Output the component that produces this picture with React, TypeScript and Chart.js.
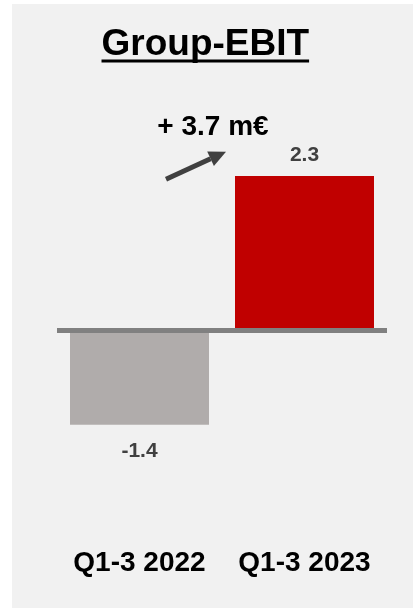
import React, { useEffect, useRef } from "react";
import { Chart, registerables } from "chart.js";

Chart.register(...registerables);

const TITLE = "Group-EBIT";
const CATEGORIES = ["Q1-3 2022", "Q1-3 2023"];
const EBIT_VALUES = [-1.4, 2.3];
const BAR_COLORS = ["#b0acab", "#c00000"];
const UNIT = "m€";

const FONT = "'Liberation Sans', Arial, Helvetica, sans-serif";

export default function App() {
  const canvasRef = useRef<HTMLCanvasElement | null>(null);

  useEffect(() => {
    const canvas = canvasRef.current;
    if (!canvas) return;

    const overlay = {
      id: "overlay",
      afterDraw(chart: any) {
        const ctx = chart.ctx as CanvasRenderingContext2D;
        ctx.save();
        // Title with underline
        ctx.fillStyle = "#000000";
        ctx.font = `bold 37px ${FONT}`;
        ctx.textAlign = "center";
        ctx.textBaseline = "alphabetic";
        const titleX = 193.3;
        const titleY = 51;
        ctx.fillText(TITLE, titleX, titleY);
        const tw = ctx.measureText(TITLE).width;
        ctx.fillRect(titleX - tw / 2, 55.5, tw, 3);

        // Delta annotation
        const delta = EBIT_VALUES[1] - EBIT_VALUES[0];
        ctx.font = `bold 28px ${FONT}`;
        ctx.fillText(`+ ${delta.toFixed(1)} ${UNIT}`, 201, 131);

        // Arrow
        const x1 = 154, y1 = 175.3, x2 = 214, y2 = 147.7;
        const ang = Math.atan2(y2 - y1, x2 - x1);
        const headLen = 17;
        const headHalf = 8;
        const bx = x2 - headLen * Math.cos(ang);
        const by = y2 - headLen * Math.sin(ang);
        ctx.strokeStyle = "#404040";
        ctx.fillStyle = "#404040";
        ctx.lineWidth = 5;
        ctx.beginPath();
        ctx.moveTo(x1, y1);
        ctx.lineTo(bx, by);
        ctx.stroke();
        ctx.beginPath();
        ctx.moveTo(x2, y2);
        ctx.lineTo(bx + headHalf * Math.sin(ang), by - headHalf * Math.cos(ang));
        ctx.lineTo(bx - headHalf * Math.sin(ang), by + headHalf * Math.cos(ang));
        ctx.closePath();
        ctx.fill();

        // Value labels
        const meta = chart.getDatasetMeta(0);
        ctx.font = `bold 21px ${FONT}`;
        ctx.fillStyle = "#404040";
        meta.data.forEach((bar: any, i: number) => {
          const v = EBIT_VALUES[i];
          const y = v >= 0 ? bar.y - 15 : bar.y + 32;
          ctx.fillText(v.toFixed(1), bar.x, y);
        });
        ctx.restore();
      },
    };

    const chart = new Chart(canvas, {
      type: "bar",
      data: {
        labels: CATEGORIES,
        datasets: [
          {
            data: EBIT_VALUES,
            backgroundColor: BAR_COLORS,
            borderWidth: 0,
            barPercentage: 0.8424,
            categoryPercentage: 1,
          },
        ],
      },
      options: {
        responsive: false,
        animation: false,
        events: [],
        layout: { padding: { left: 45, right: 26, top: 125, bottom: 0 } },
        plugins: {
          legend: { display: false },
          title: { display: false },
          tooltip: { enabled: false },
        },
        scales: {
          x: {
            grid: { display: false, drawTicks: false },
            border: { display: false },
            ticks: {
              color: "#000000",
              font: { family: FONT, size: 28, weight: "bold" },
              padding: 81,
              maxRotation: 0,
              minRotation: 0,
              autoSkip: false,
            },
            afterFit: (scale: any) => {
              scale.height = 143;
              scale.paddingLeft = 0;
              scale.paddingRight = 0;
            },
          },
          y: {
            min: -2,
            max: 3,
            z: 1,
            ticks: { display: false, stepSize: 1 },
            border: { display: false },
            grid: {
              drawTicks: false,
              color: (c: any) => (c.tick && c.tick.value === 0 ? "#808080" : "rgba(0,0,0,0)"),
              lineWidth: (c: any) => (c.tick && c.tick.value === 0 ? 5 : 0),
            },
            afterFit: (scale: any) => {
              scale.width = 0;
              scale.paddingTop = 0;
              scale.paddingBottom = 0;
            },
          },
        },
      },
      plugins: [overlay],
    });

    return () => chart.destroy();
  }, []);

  return (
    <div
      style={{
        position: "absolute",
        left: 12,
        top: 4,
        width: 401,
        height: 604,
        background: "#f1f1f1",
      }}
    >
      <canvas ref={canvasRef} width={401} height={604} style={{ display: "block", width: 401, height: 604 }} />
    </div>
  );
}
